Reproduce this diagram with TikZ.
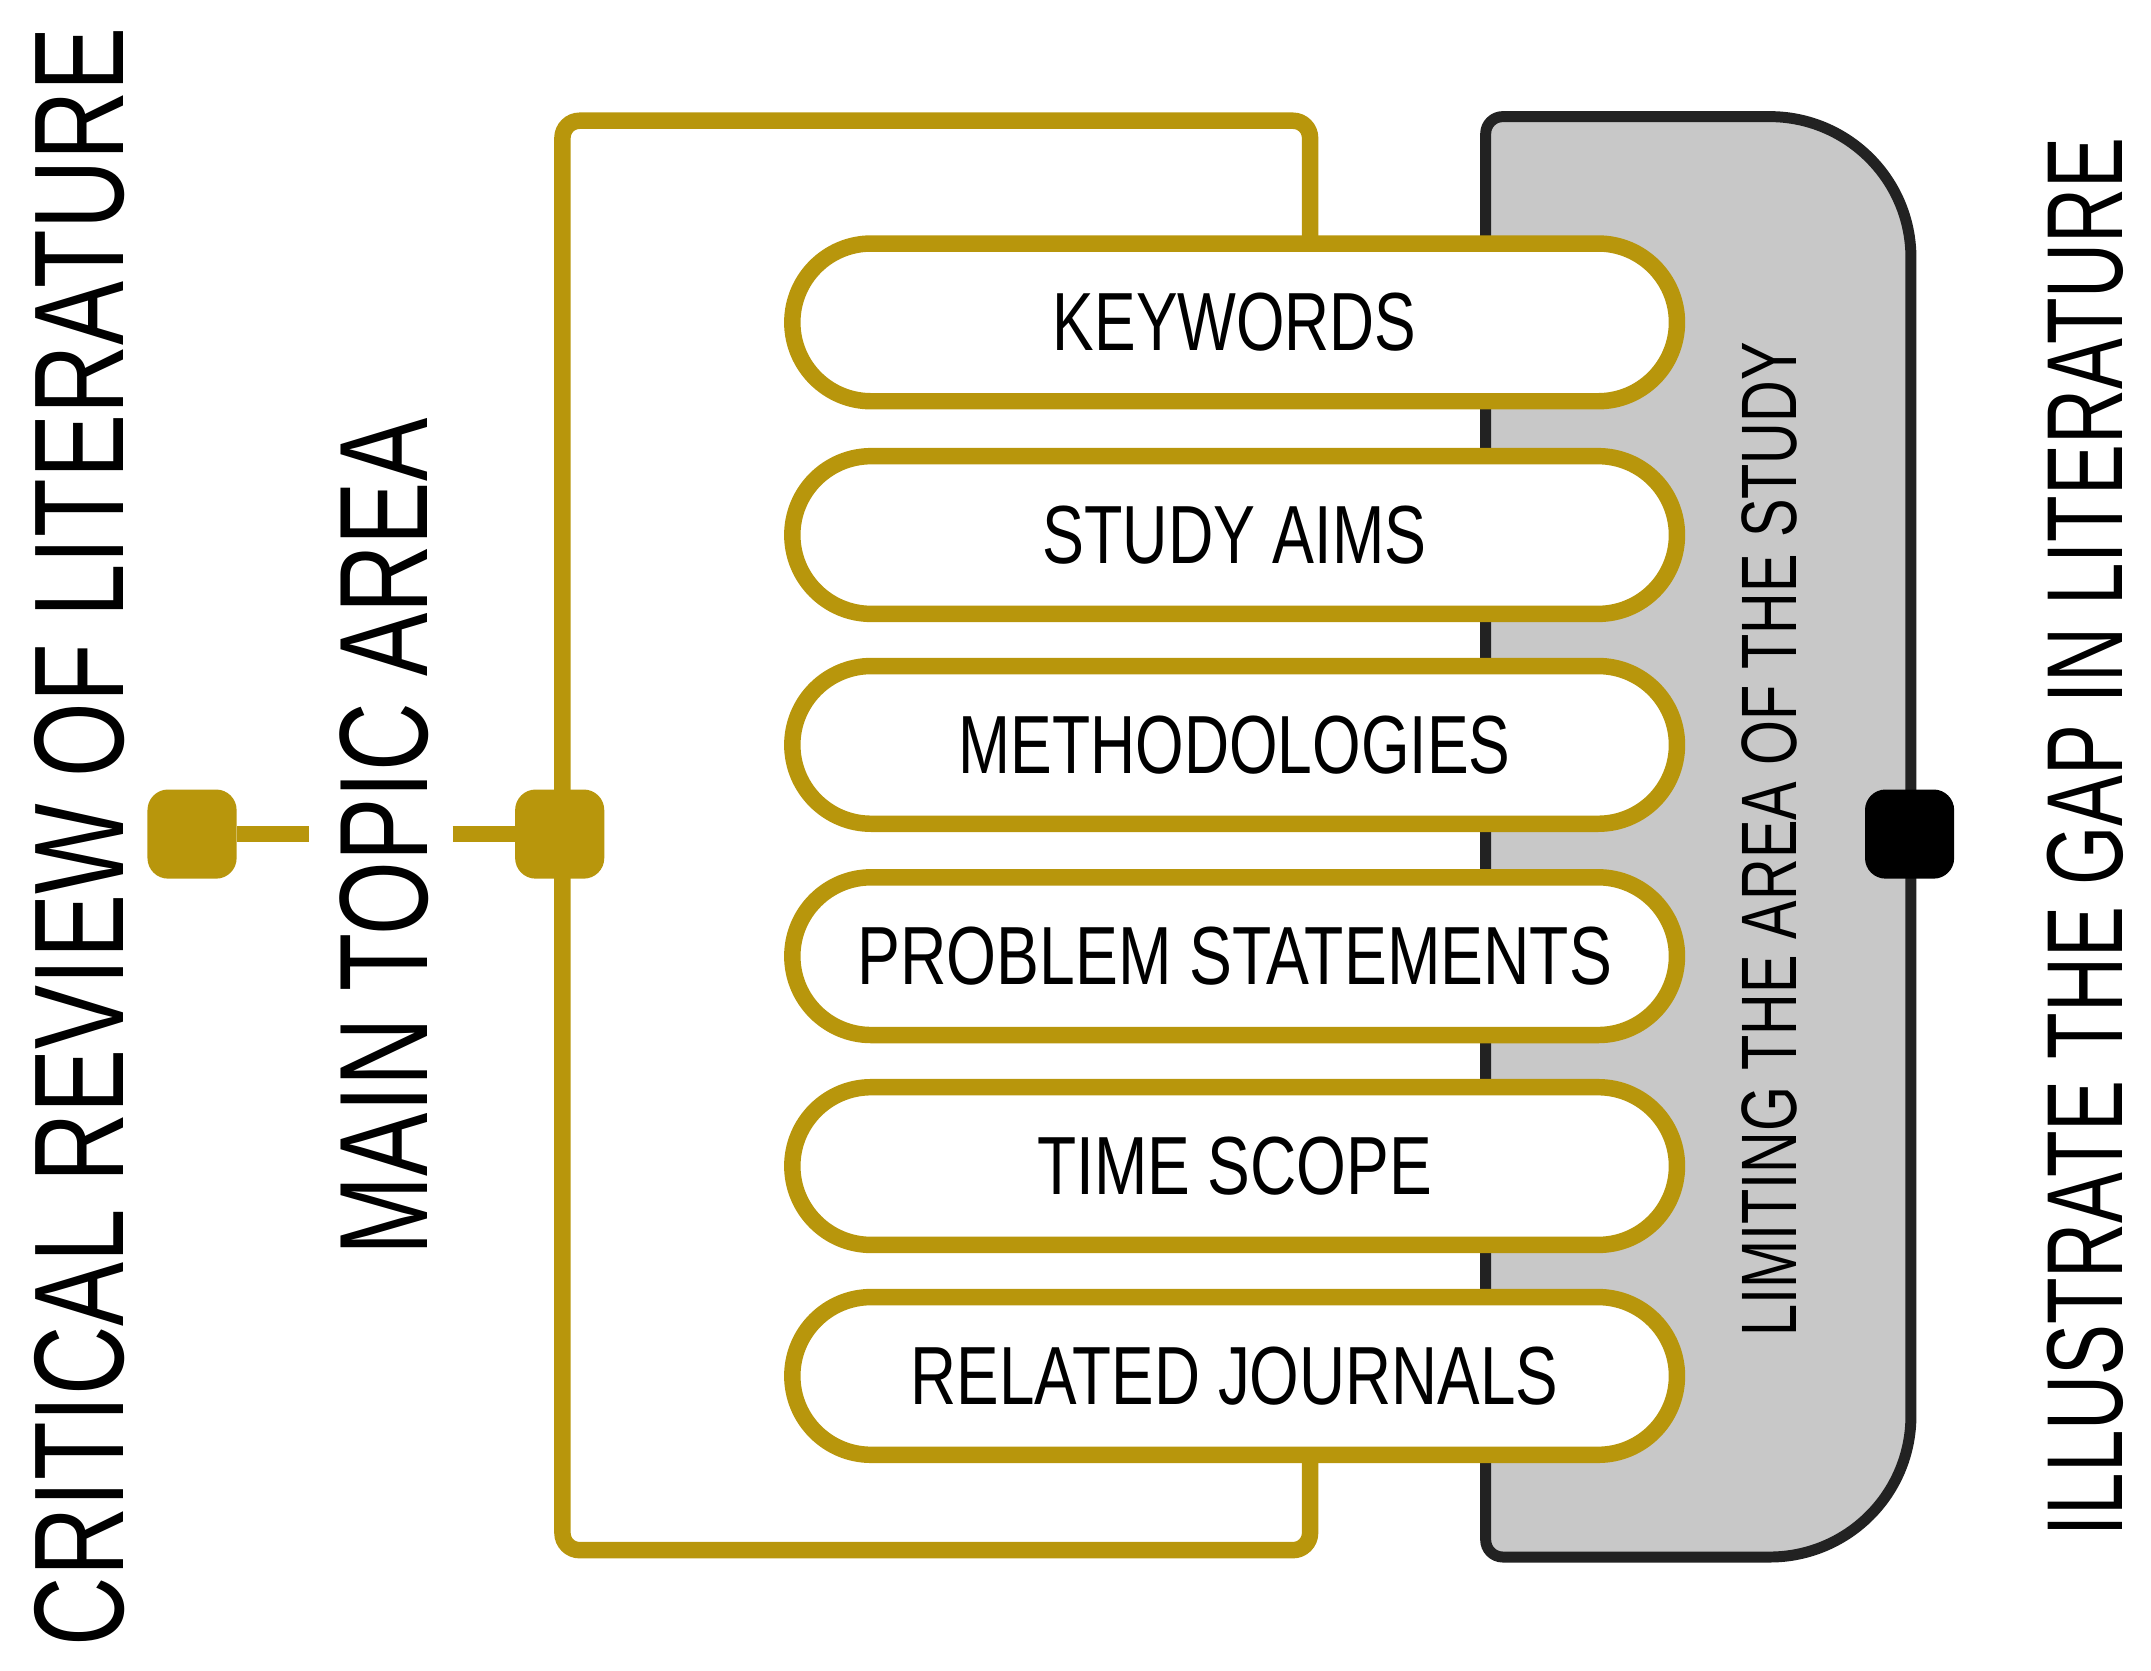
\documentclass[tikz,border=0pt]{standalone}
\usepackage{fontspec}
\setmainfont{Liberation Sans}
\usetikzlibrary{shapes.misc}
\definecolor{gold}{HTML}{B8960C}
\definecolor{shade}{HTML}{C8C8C8}
\definecolor{dark}{HTML}{222222}
\newcommand{\fitt}[3]{\resizebox{#1cm}{#2cm}{#3}}
\begin{document}
\begin{tikzpicture}[x=0.02cm,y=-0.02cm,
  pill/.style={draw=gold,line width=0.24cm,fill=white,rounded rectangle,minimum width=12.9cm,minimum height=2.3cm,inner sep=0pt},
  dot/.style={rounded corners=0.3cm,minimum size=1.3cm,inner sep=0pt},
  lbl/.style={inner sep=0pt,rotate=90}]
\useasboundingbox (0,0) rectangle (1568,1218);
% gray shape
\draw[dark,line width=0.16cm,fill=shade,rounded corners=0.25cm] (1083,600) -- (1083,85) [rounded corners=2.06cm] -- (1393,85) -- (1393,1135) [rounded corners=0.25cm] -- (1083,1135) -- cycle;
% gold bracket
\draw[gold,line width=0.24cm,rounded corners=0.25cm] (955,175) -- (955,88) -- (410,88) -- (410,1130) -- (955,1130) -- (955,1060);
% pills
\node[pill] (p1) at (900,235) {\fitt{5.3}{0.84}{KEYWORDS}};
\node[pill] (p2) at (900,390) {\fitt{5.6}{0.84}{STUDY AIMS}};
\node[pill] (p3) at (900,543) {\fitt{8.04}{0.84}{METHODOLOGIES}};
\node[pill] (p4) at (900,697) {\fitt{11.0}{0.84}{PROBLEM STATEMENTS}};
\node[pill] (p5) at (900,850) {\fitt{5.76}{0.84}{TIME SCOPE}};
\node[pill] (p6) at (900,1003) {\fitt{9.44}{0.84}{RELATED JOURNALS}};
% texts
\node[lbl] (crit) at (58,610) {\fitt{23.6}{1.3}{CRITICAL REVIEW OF LITERATURE}};
\node[lbl] (main) at (280,610) {\fitt{12.2}{1.28}{MAIN TOPIC AREA}};
\node[lbl] (lim) at (1290,612) {\fitt{14.5}{0.8}{LIMITING THE AREA OF THE STUDY}};
\node[lbl] (ill) at (1520,610) {\fitt{20.4}{1.1}{ILLUSTRATE THE GAP IN LITERATURE}};
% dots
\node[dot,fill=gold] (d1) at (140,608) {};
\node[dot,fill=gold] (d2) at (408,608) {};
\node[dot,fill=black] (d3) at (1392,608) {};
\coordinate (a1) at (225,608);
\coordinate (a2) at (330,608);
\draw[gold,line width=0.24cm] (d1) -- (a1);
\draw[gold,line width=0.24cm] (a2) -- (d2);
\end{tikzpicture}
\end{document}
